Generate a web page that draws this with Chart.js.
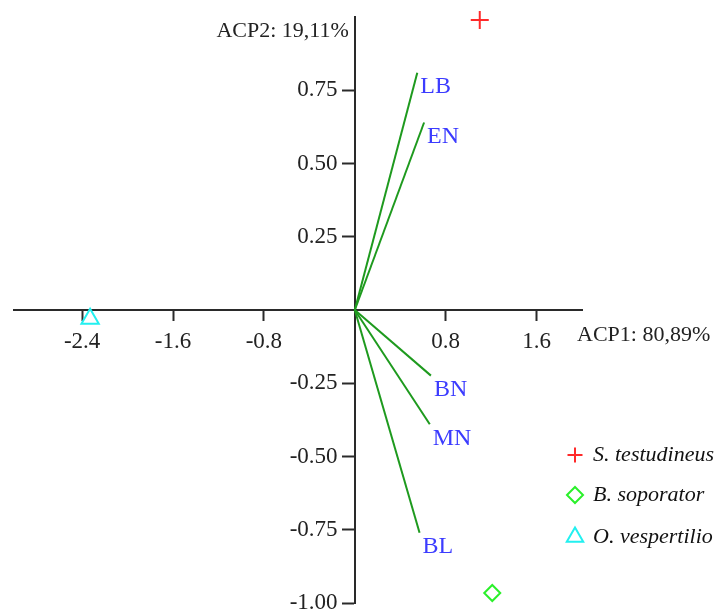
<!DOCTYPE html>
<html>
<head>
<meta charset="utf-8">
<script src="https://cdn.jsdelivr.net/npm/chart.js@4"></script>
<style>
  html, body { margin: 0; padding: 0; background: #fff; }
  #wrap { width: 717px; height: 615px; }
</style>
</head>
<body>
<div id="wrap"><canvas id="acp"></canvas></div>
<script>
  // variables (loadings) - drawn as vectors from the origin
  const varNames = ['LB', 'EN', 'BN', 'MN', 'BL'];
  const varX = [0.55, 0.61, 0.67, 0.66, 0.57];
  const varY = [0.81, 0.64, -0.224, -0.39, -0.76];

  // species (scores)
  const species = ['S. testudineus', 'B. soporator', 'O. vespertilio'];
  const speciesX = [1.10, 1.21, -2.33];
  const speciesY = [0.99, -0.966, -0.03];
  const speciesColors = ['#ff2a2a', '#2af02a', '#22f0f0'];
  const speciesStyles = ['cross', 'rectRot', 'triangle'];

  const xTicks = [-2.4, -1.6, -0.8, 0, 0.8, 1.6];
  const yTicks = [-1, -0.75, -0.5, -0.25, 0, 0.25, 0.5, 0.75];
  const xTitle = 'ACP1: 80,89%';
  const yTitle = 'ACP2: 19,11%';

  const serif = '"Liberation Serif", "Times New Roman", serif';
  const green = '#1e9a1e';
  const axisColor = '#2a2a2a';
  const noZero = c => (c.tick && c.tick.value === 0 ? 'rgba(0,0,0,0)' : axisColor);

  const datasets = [];
  varNames.forEach((n, i) => {
    datasets.push({
      label: n,
      data: [{x: 0, y: 0}, {x: varX[i], y: varY[i]}],
      showLine: true,
      borderColor: green,
      borderWidth: 2,
      pointRadius: 0,
      clip: false
    });
  });
  species.forEach((n, i) => {
    datasets.push({
      label: n,
      data: [{x: speciesX[i], y: speciesY[i]}],
      showLine: false,
      pointStyle: speciesStyles[i],
      pointRadius: i === 1 ? 8 : (i === 2 ? 10 : 9),
      borderColor: speciesColors[i],
      backgroundColor: 'rgba(0,0,0,0)',
      borderWidth: 2,
      clip: false
    });
  });

  // text for vectors, axis titles and the species key
  const annotations = {
    id: 'annotations',
    afterDraw(chart) {
      const ctx = chart.ctx;
      const xs = chart.scales.x, ys = chart.scales.y;
      const x0 = xs.getPixelForValue(0), y0 = ys.getPixelForValue(0);
      ctx.save();
      ctx.textBaseline = 'middle';

      ctx.font = '24px ' + serif;
      ctx.fillStyle = '#3c3cff';
      ctx.textAlign = 'left';
      varNames.forEach((n, i) => {
        ctx.fillText(n, xs.getPixelForValue(varX[i]) + 3, ys.getPixelForValue(varY[i]) + 14);
      });

      ctx.font = '22px ' + serif;
      ctx.fillStyle = '#222';
      ctx.fillText(xTitle, xs.right - 5, y0 + 25);
      ctx.textAlign = 'right';
      ctx.fillText(yTitle, x0 - 6, ys.top + 14);

      // key
      const area = chart.chartArea;
      const rows = [455, 495, 537];
      ctx.textAlign = 'left';
      ctx.font = 'italic 22px ' + serif;
      species.forEach((n, i) => {
        const my = rows[i];
        const mx = area.right - 7;
        ctx.strokeStyle = speciesColors[i];
        ctx.fillStyle = 'rgba(0,0,0,0)';
        ctx.lineWidth = 2;
        Chart.helpers.drawPoint(ctx, {
          pointStyle: speciesStyles[i],
          radius: i === 0 ? 7.5 : (i === 1 ? 8 : 9.5),
          borderWidth: 2,
          rotation: 0
        }, mx, my);
        ctx.fillStyle = '#111';
        ctx.fillText(n, area.right + 11, my);
      });
      ctx.restore();
    }
  };

  new Chart(document.getElementById('acp'), {
    type: 'scatter',
    data: { datasets },
    options: {
      responsive: true,
      maintainAspectRatio: false,
      animation: false,
      layout: { padding: { left: 14, right: 135, top: 17, bottom: 12 } },
      plugins: { legend: { display: false }, tooltip: { enabled: false } },
      scales: {
        x: {
          type: 'linear',
          min: -3, max: 2,
          position: { y: 0 },
          afterFit: s => { s.height = 0; s.paddingLeft = 0; s.paddingRight = 0; },
          afterBuildTicks: s => { s.ticks = xTicks.map(v => ({ value: v })); },
          border: { display: true, color: axisColor, width: 2 },
          grid: { drawOnChartArea: false, drawTicks: true, tickLength: 10, tickColor: noZero, tickWidth: 2 },
          ticks: {
            autoSkip: false, maxRotation: 0, padding: 8,
            color: '#222', font: { family: serif, size: 23 },
            callback: v => (v === 0 ? '' : v.toFixed(1))
          }
        },
        y: {
          type: 'linear',
          min: -1, max: 1,
          position: { x: 0 },
          afterFit: s => { s.width = 0; s.paddingTop = 0; s.paddingBottom = 0; },
          afterBuildTicks: s => { s.ticks = yTicks.map(v => ({ value: v })); },
          border: { display: true, color: axisColor, width: 2 },
          grid: { drawOnChartArea: false, drawTicks: true, tickLength: 12, tickColor: noZero, tickWidth: 2 },
          ticks: {
            autoSkip: false, padding: 4,
            color: '#222', font: { family: serif, size: 23 },
            // labels sit against the axis line when it is placed at x = 0, so pad them
            callback: v => (v === 0 ? '' : v.toFixed(2) + '   ')
          }
        }
      }
    },
    plugins: [annotations]
  });
</script>
</body>
</html>
